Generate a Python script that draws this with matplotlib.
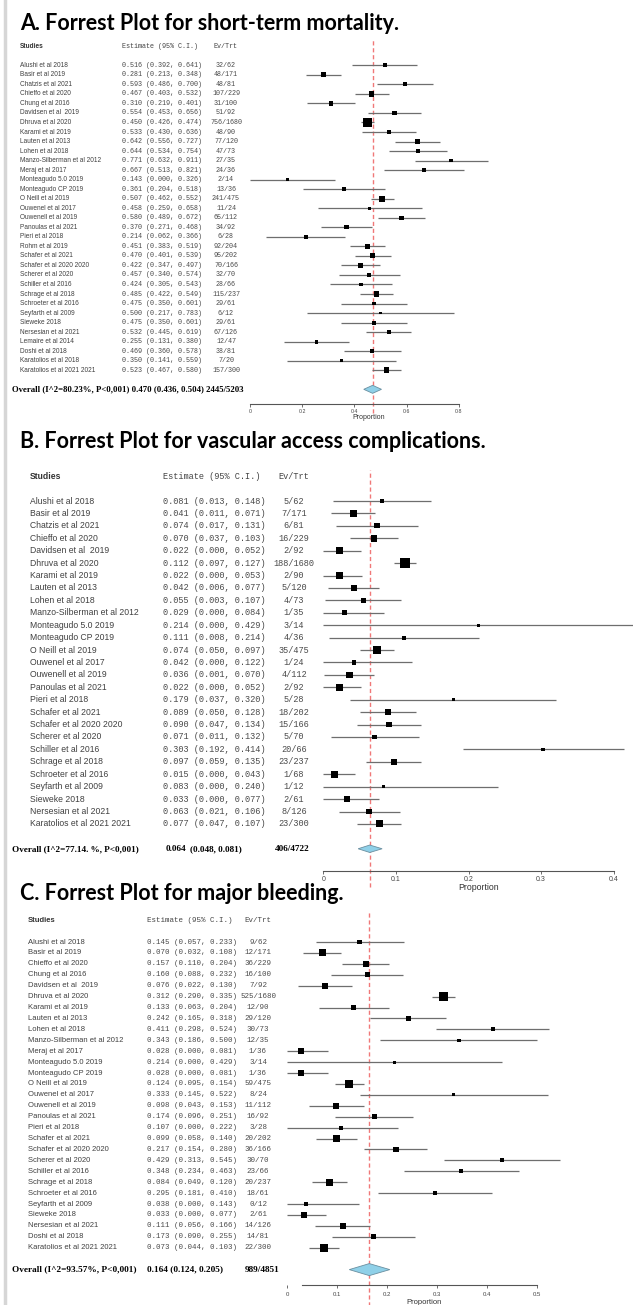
import numpy as np
import matplotlib
matplotlib.use("Agg")
import matplotlib.pyplot as plt
import matplotlib.transforms as mtransforms
from matplotlib.patches import Polygon
from matplotlib.lines import Line2D

W, H = 633, 1305

# ---- A. short-term mortality ----
studies_a = [
    "Alushi et al 2018", "Basir et al 2019", "Chatzis et al 2021", "Chieffo et al 2020",
    "Chung et al 2016", "Davidsen et al  2019", "Dhruva et al 2020", "Karami et al 2019",
    "Lauten et al 2013", "Lohen et al 2018", "Manzo-Silberman et al 2012", "Meraj et al 2017",
    "Monteagudo 5.0 2019", "Monteagudo CP 2019", "O Neill et al 2019", "Ouwenel et al 2017",
    "Ouwenell et al 2019", "Panoulas et al 2021", "Pieri et al 2018", "Rohm et al 2019",
    "Schafer et al 2021", "Schafer et al 2020 2020", "Scherer et al 2020", "Schiller et al 2016",
    "Schrage et al 2018", "Schroeter et al 2016", "Seyfarth et al 2009", "Sieweke 2018",
    "Nersesian et al 2021", "Lemaire et al 2014", "Doshi et al 2018", "Karatolios et al 2018",
    "Karatolios et al 2021 2021",
]
est_a = [0.516, 0.281, 0.593, 0.467, 0.310, 0.554, 0.450, 0.533, 0.642, 0.644, 0.771, 0.667,
         0.143, 0.361, 0.507, 0.458, 0.580, 0.370, 0.214, 0.451, 0.470, 0.422, 0.457, 0.424,
         0.485, 0.475, 0.500, 0.475, 0.532, 0.255, 0.469, 0.350, 0.523]
lo_a = [0.392, 0.213, 0.486, 0.403, 0.219, 0.453, 0.426, 0.430, 0.556, 0.534, 0.632, 0.513,
        0.000, 0.204, 0.462, 0.259, 0.489, 0.271, 0.062, 0.383, 0.401, 0.347, 0.340, 0.305,
        0.422, 0.350, 0.217, 0.350, 0.445, 0.131, 0.360, 0.141, 0.467]
hi_a = [0.641, 0.348, 0.700, 0.532, 0.401, 0.656, 0.474, 0.636, 0.727, 0.754, 0.911, 0.821,
        0.326, 0.518, 0.552, 0.658, 0.672, 0.468, 0.366, 0.519, 0.539, 0.497, 0.574, 0.543,
        0.549, 0.601, 0.783, 0.601, 0.619, 0.380, 0.578, 0.559, 0.580]
evtrt_a = ["32/62", "48/171", "48/81", "107/229", "31/100", "51/92", "756/1680", "48/90",
           "77/120", "47/73", "27/35", "24/36", "2/14", "13/36", "241/475", "11/24",
           "65/112", "34/92", "6/28", "92/204", "95/202", "70/166", "32/70", "28/66",
           "115/237", "29/61", "6/12", "29/61", "67/126", "12/47", "38/81", "7/20", "157/300"]
overall_a = (0.470, 0.436, 0.504)
overall_lab_a = "Overall (I^2=80.23%, P<0,001)"
overall_ev_a = "2445/5203"

# ---- B. vascular access complications ----
studies_b = [
    "Alushi et al 2018", "Basir et al 2019", "Chatzis et al 2021", "Chieffo et al 2020",
    "Davidsen et al  2019", "Dhruva et al 2020", "Karami et al 2019", "Lauten et al 2013",
    "Lohen et al 2018", "Manzo-Silberman et al 2012", "Monteagudo 5.0 2019", "Monteagudo CP 2019",
    "O Neill et al 2019", "Ouwenel et al 2017", "Ouwenell et al 2019", "Panoulas et al 2021",
    "Pieri et al 2018", "Schafer et al 2021", "Schafer et al 2020 2020", "Scherer et al 2020",
    "Schiller et al 2016", "Schrage et al 2018", "Schroeter et al 2016", "Seyfarth et al 2009",
    "Sieweke 2018", "Nersesian et al 2021", "Karatolios et al 2021 2021",
]
est_b = [0.081, 0.041, 0.074, 0.070, 0.022, 0.112, 0.022, 0.042, 0.055, 0.029, 0.214, 0.111,
         0.074, 0.042, 0.036, 0.022, 0.179, 0.089, 0.090, 0.071, 0.303, 0.097, 0.015, 0.083,
         0.033, 0.063, 0.077]
lo_b = [0.013, 0.011, 0.017, 0.037, 0.000, 0.097, 0.000, 0.006, 0.003, 0.000, 0.000, 0.008,
        0.050, 0.000, 0.001, 0.000, 0.037, 0.050, 0.047, 0.011, 0.192, 0.059, 0.000, 0.000,
        0.000, 0.021, 0.047]
hi_b = [0.148, 0.071, 0.131, 0.103, 0.052, 0.127, 0.053, 0.077, 0.107, 0.084, 0.429, 0.214,
        0.097, 0.122, 0.070, 0.052, 0.320, 0.128, 0.134, 0.132, 0.414, 0.135, 0.043, 0.240,
        0.077, 0.106, 0.107]
evtrt_b = ["5/62", "7/171", "6/81", "16/229", "2/92", "188/1680", "2/90", "5/120", "4/73",
           "1/35", "3/14", "4/36", "35/475", "1/24", "4/112", "2/92", "5/28", "18/202",
           "15/166", "5/70", "20/66", "23/237", "1/68", "1/12", "2/61", "8/126", "23/300"]
overall_b = (0.064, 0.048, 0.081)
overall_lab_b = "Overall (I^2=77.14. %, P<0,001)"
overall_ev_b = "406/4722"

# ---- C. major bleeding ----
studies_c = [
    "Alushi et al 2018", "Basir et al 2019", "Chieffo et al 2020", "Chung et al 2016",
    "Davidsen et al  2019", "Dhruva et al 2020", "Karami et al 2019", "Lauten et al 2013",
    "Lohen et al 2018", "Manzo-Silberman et al 2012", "Meraj et al 2017", "Monteagudo 5.0 2019",
    "Monteagudo CP 2019", "O Neill et al 2019", "Ouwenel et al 2017", "Ouwenell et al 2019",
    "Panoulas et al 2021", "Pieri et al 2018", "Schafer et al 2021", "Schafer et al 2020 2020",
    "Scherer et al 2020", "Schiller et al 2016", "Schrage et al 2018", "Schroeter et al 2016",
    "Seyfarth et al 2009", "Sieweke 2018", "Nersesian et al 2021", "Doshi et al 2018",
    "Karatolios et al 2021 2021",
]
est_c = [0.145, 0.070, 0.157, 0.160, 0.076, 0.312, 0.133, 0.242, 0.411, 0.343, 0.028, 0.214,
         0.028, 0.124, 0.333, 0.098, 0.174, 0.107, 0.099, 0.217, 0.429, 0.348, 0.084, 0.295,
         0.038, 0.033, 0.111, 0.173, 0.073]
lo_c = [0.057, 0.032, 0.110, 0.088, 0.022, 0.290, 0.063, 0.165, 0.298, 0.186, 0.000, 0.000,
        0.000, 0.095, 0.145, 0.043, 0.096, 0.000, 0.058, 0.154, 0.313, 0.234, 0.049, 0.181,
        0.000, 0.000, 0.056, 0.090, 0.044]
hi_c = [0.233, 0.108, 0.204, 0.232, 0.130, 0.335, 0.204, 0.318, 0.524, 0.500, 0.081, 0.429,
        0.081, 0.154, 0.522, 0.153, 0.251, 0.222, 0.140, 0.280, 0.545, 0.463, 0.120, 0.410,
        0.143, 0.077, 0.166, 0.255, 0.103]
evtrt_c = ["9/62", "12/171", "36/229", "16/100", "7/92", "525/1680", "12/90", "29/120",
           "30/73", "12/35", "1/36", "3/14", "1/36", "59/475", "8/24", "11/112", "16/92",
           "3/28", "20/202", "36/166", "30/70", "23/66", "20/237", "18/61", "0/12", "2/61",
           "14/126", "14/81", "22/300"]
overall_c = (0.164, 0.124, 0.205)
overall_lab_c = "Overall (I^2=93.57%, P<0,001)"
overall_ev_c = "989/4851"

SANS = "Liberation Sans"
MONO = "Liberation Mono"
SERIF = "Liberation Serif"

fig = plt.figure(figsize=(W / 100, H / 100), dpi=100)
px = mtransforms.Affine2D().scale(1 / W, -1 / H).translate(0, 1) + fig.transFigure

# light grey frame line on the left
fig.add_artist(Line2D([5, 5], [0, H], transform=px, lw=2.5, color="#d6d6d6"))


def forest(title, studies, est, lo, hi, evtrt, overall, overall_parts, L):
    est, lo, hi = map(np.asarray, (est, lo, hi))
    k = len(studies)
    step = L["step"]
    row0 = L["row0"]
    x0 = L["x0"]
    ppu = L["ppu"]

    fig.text(20 / W, 1 - L["title_y"] / H, title, fontsize=15.5, fontweight="bold",
             family="Lato", va="center", ha="left")

    ax = fig.add_axes([x0 / W, 1 - L["axis"] / H, (W - x0) / W, (L["axis"] - L["top"]) / H])
    ax.set_facecolor("none")
    ax.set_xlim(0, (W - x0) / ppu)
    ax.set_ylim((L["axis"] - row0) / step, (L["top"] - row0) / step)

    y = np.arange(k)
    # square area ~ precision (1/se)
    se = (hi - est) / 1.96
    w = 1 / se
    side = L["smax"] * np.sqrt(w / w.max())
    ax.hlines(y, lo, hi, color="#6e6e6e", lw=0.9, zorder=2)
    ax.scatter(est, y, marker="s", s=(side * 0.72) ** 2, color="black", lw=0, zorder=3)

    oe, ol, oh = overall
    yo = k + 1
    dh = L["dh"]
    ax.add_patch(Polygon([(ol, yo), (oe, yo - dh), (oh, yo), (oe, yo + dh)],
                         closed=True, facecolor="#8fd0e8", edgecolor="#6a8fa0", lw=0.6, zorder=3))
    ax.axvline(oe, ymin=L["dash_lo"], ymax=1, color="#f07878", lw=1.0,
               dashes=(3, 2), clip_on=False, zorder=1)

    for s in ("top", "right", "left"):
        ax.spines[s].set_visible(False)
    ax.spines["bottom"].set_bounds(*L["bounds"])
    ax.spines["bottom"].set_color("#555555")
    ax.spines["bottom"].set_linewidth(0.8)
    ax.set_yticks([])
    ax.set_xticks(L["ticks"])
    ax.set_xticklabels(L["ticklabels"], family=SANS, fontsize=L["tick_fs"], color="#444444")
    ax.tick_params(axis="x", length=2.2, width=0.6, color="#555555", pad=L["tick_pad"])
    ax.set_xlabel("Proportion", family=SANS, fontsize=L["xlab_fs"], color="#333333")
    ax_h = L["axis"] - L["top"]
    ax.xaxis.set_label_coords((L["xlab_x"] - x0) / (W - x0), -(L["xlab_y"] - L["axis"]) / ax_h)
    ax.xaxis.label.set_va("center")

    tr = mtransforms.blended_transform_factory(px, ax.transData)
    nfs, mfs = L["name_fs"], L["mono_fs"]
    ax.text(L["name_x"], -2, "Studies", transform=tr, family=SANS, fontsize=nfs,
            fontweight="bold", color="#333333", va="center", clip_on=False)
    ax.text(L["est_x"], -2, "Estimate (95% C.I.)", transform=tr, family=MONO, fontsize=mfs,
            color="#444444", va="center", clip_on=False)
    ax.text(L["ev_x"], -2, "Ev/Trt", transform=tr, family=MONO, fontsize=mfs,
            color="#444444", va="center", ha="center", clip_on=False)
    for i in range(k):
        ax.text(L["name_x"], i, studies[i], transform=tr, family=SANS, fontsize=nfs,
                color="#404040", va="center", clip_on=False)
        ax.text(L["est_x"], i, f"{est[i]:.3f} ({lo[i]:.3f}, {hi[i]:.3f})", transform=tr,
                family=MONO, fontsize=mfs, color="#4a4a4a", va="center", clip_on=False)
        ax.text(L["ev_x"], i, evtrt[i], transform=tr, family=MONO, fontsize=mfs,
                color="#4a4a4a", va="center", ha="center", clip_on=False)
    for xp, txt in overall_parts:
        ax.text(xp, yo, txt, transform=tr, family=SERIF, fontsize=L["ov_fs"],
                fontweight="bold", color="black", va="center", clip_on=False)
    return ax


LA = dict(title_y=24, row0=65.3, step=9.53, axis=404.3, top=40, x0=250, ppu=260.9,
          bounds=(0, 0.8), ticks=[0, 0.2, 0.4, 0.6, 0.8],
          ticklabels=["0", "0.2", "0.4", "0.6", "0.8"], tick_fs=3.8, tick_pad=1.5,
          xlab_fs=5.0, xlab_x=369, xlab_y=418, name_x=20, est_x=122, ev_x=226,
          name_fs=4.7, mono_fs=4.9, ov_fs=6.3, smax=8.7, dh=0.42, dash_lo=-0.025)
LB = dict(title_y=441, row0=501, step=12.42, axis=871, top=470, x0=323.3, ppu=726,
          bounds=(0, 0.4), ticks=[0, 0.1, 0.2, 0.3, 0.4],
          ticklabels=["0", "0.1", "0.2", "0.3", "0.4"], tick_fs=5.0, tick_pad=1.5,
          xlab_fs=6.3, xlab_x=479, xlab_y=887, name_x=30, est_x=163, ev_x=294,
          name_fs=6.2, mono_fs=6.2, ov_fs=6.6, smax=10.0, dh=0.3, dash_lo=-0.04)
LC = dict(title_y=893, row0=942, step=10.92, axis=1285, top=912, x0=287.3, ppu=500,
          bounds=(0.03, 0.5), ticks=[0, 0.1, 0.2, 0.3, 0.4, 0.5],
          ticklabels=["0", "0.1", "0.2", "0.3", "0.4", "0.5"], tick_fs=4.3, tick_pad=2.5,
          xlab_fs=5.5, xlab_x=424, xlab_y=1303, name_x=28, est_x=147, ev_x=258,
          name_fs=5.5, mono_fs=5.4, ov_fs=6.7, smax=9.0, dh=0.55, dash_lo=-0.06)

oe, ol, oh = overall_a
forest("A. Forrest Plot for short-term mortality.", studies_a, est_a, lo_a, hi_a, evtrt_a,
       overall_a, [(12, f"{overall_lab_a} {oe:.3f} ({ol:.3f}, {oh:.3f}) {overall_ev_a}")], LA)

oe, ol, oh = overall_b
forest("B. Forrest Plot for vascular access complications.", studies_b, est_b, lo_b, hi_b,
       evtrt_b, overall_b,
       [(12, overall_lab_b), (166, f"{oe:.3f}"), (190, f"({ol:.3f}, {oh:.3f})"),
        (275, overall_ev_b)], LB)

oe, ol, oh = overall_c
forest("C. Forrest Plot for major bleeding.", studies_c, est_c, lo_c, hi_c, evtrt_c,
       overall_c, [(12, overall_lab_c), (147, f"{oe:.3f} ({ol:.3f}, {oh:.3f})"),
                   (245, overall_ev_c)], LC)

fig.savefig("out.png", dpi=100, facecolor="white")
